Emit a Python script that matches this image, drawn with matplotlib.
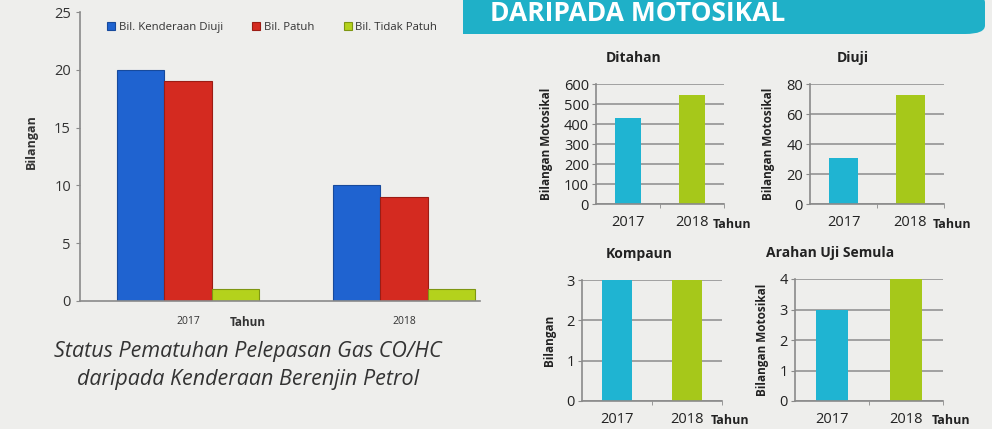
import matplotlib.pyplot as plt
import numpy as np
from matplotlib.patches import Rectangle, FancyBboxPatch

plt.rcParams['font.family'] = ['Open Sans', 'DejaVu Sans']

W, H = 992, 429
BG = "#eeeeec"

# --------------------------------------------------------------------
# Data
# --------------------------------------------------------------------

years = ["2017", "2018"]

diuji_kenderaan = [20, 10]
patuh = [19, 9]
tidak_patuh = [1, 1]

ditahan = [430, 545]
diuji_motosikal = [31, 73]
kompaun = [3, 3]
arahan_uji = [3, 4]

CYAN = "#1fb4d2"
LIME = "#a6c81a"


def px_axes(fig, x0, y0, x1, y1):
    # pixel box (top-left origin) -> figure axes
    return fig.add_axes([x0 / W, 1 - y1 / H, (x1 - x0) / W, (y1 - y0) / H])


def style_axes(ax):
    ax.set_facecolor("none")
    for side in ["top", "right"]:
        ax.spines[side].set_visible(False)
    for side in ["left", "bottom"]:
        ax.spines[side].set_color("#8a8a8a")
        ax.spines[side].set_linewidth(1.2)


fig = plt.figure(figsize=(W / 100, H / 100), dpi=100, facecolor=BG)

# --------------------------------------------------------------------
# Left chart: kenderaan berenjin petrol
# --------------------------------------------------------------------

ax = px_axes(fig, 80, 12, 480, 301)
style_axes(ax)

x = np.arange(len(years))
bw = 0.22

ax.bar(x - bw, diuji_kenderaan, bw, color="#1f63d0", edgecolor="#174a9c",
       linewidth=0.8, label="Bil. Kenderaan Diuji")
ax.bar(x, patuh, bw, color="#d42a20", edgecolor="#9c1c14",
       linewidth=0.8, label="Bil. Patuh")
ax.bar(x + bw, tidak_patuh, bw, color="#b4d21c", edgecolor="#7e9612",
       linewidth=0.8, label="Bil. Tidak Patuh")

ax.set_xlim(-0.5, 1.352)
ax.set_ylim(0, 25)
ax.set_yticks([0, 5, 10, 15, 20, 25])
ax.set_xticks(x)
ax.set_xticklabels(years, fontsize=7.5, color="#333333")
ax.tick_params(axis="x", length=0, pad=11)
ax.tick_params(axis="y", labelsize=10.5, colors="#333333", length=3, color="#8a8a8a")
ax.set_ylabel("Bilangan", fontsize=9, fontweight="bold", color="#333333")
ax.yaxis.set_label_coords(-0.105, 0.55)

ax.legend(loc="upper center", bbox_to_anchor=(0.48, 1.0), ncol=3, frameon=False,
          fontsize=8.2, handlelength=0.7, handleheight=0.7, handletextpad=0.3,
          columnspacing=2.6, labelcolor="#333333")

fig.text(248 / W, 1 - 322 / H, "Tahun", fontsize=8.5, fontweight="bold",
         color="#333333", ha="center", va="center")

fig.text(248 / W, 1 - 352 / H, "Status Pematuhan Pelepasan Gas CO/HC",
         fontsize=15.5, style="italic", color="#333333", ha="center", va="center")
fig.text(248 / W, 1 - 379 / H, "daripada Kenderaan Berenjin Petrol",
         fontsize=15.5, style="italic", color="#333333", ha="center", va="center")

# --------------------------------------------------------------------
# Banner
# --------------------------------------------------------------------

fig.patches.append(Rectangle((463 / W, 1 - 34 / H), (950 - 463) / W, 40 / H,
                             transform=fig.transFigure, facecolor="#1fb0c8",
                             edgecolor="none"))
fig.patches.append(FancyBboxPatch((900 / W, 1 - 34 / H), (985 - 900) / W, 40 / H,
                                  boxstyle="round,pad=0,rounding_size=0.02",
                                  transform=fig.transFigure, facecolor="#1fb0c8",
                                  edgecolor="none"))
fig.text(490 / W, 1 - 21 / H, "DARIPADA MOTOSIKAL", fontsize=19,
         fontweight="bold", color="white", ha="left", va="baseline")

# --------------------------------------------------------------------
# Motosikal small charts
# --------------------------------------------------------------------


def small_chart(box, values, ymax, step, title, ylabel, title_x):
    ax = px_axes(fig, *box)
    style_axes(ax)
    ax.set_axisbelow(True)
    ax.yaxis.grid(True, color="#8c8c8c", linewidth=1.1)
    ax.bar(x, values, 0.42, color=[CYAN, LIME], edgecolor="none")
    ax.set_xlim(-0.5, 1.5)
    ax.set_ylim(0, ymax)
    ax.set_yticks(np.arange(0, ymax + step, step))
    ax.set_xticks(x)
    ax.set_xticklabels(years)
    ax.set_xticks([0.5, 1.5], minor=True)
    ax.tick_params(axis="x", which="major", length=0, pad=8)
    ax.tick_params(axis="x", which="minor", length=3, color="#8a8a8a")
    ax.tick_params(axis="both", labelsize=10.5, colors="#222222")
    ax.tick_params(axis="y", length=3, color="#8a8a8a", pad=2)
    ax.set_ylabel(ylabel, fontsize=8.5, fontweight="bold", color="#222222", labelpad=8)
    ax.annotate(title, xy=(title_x, 1), xycoords="axes fraction",
                xytext=(0, 26), textcoords="offset pixels", fontsize=10,
                fontweight="bold", color="#222222", ha="center", va="center")
    ax.annotate("Tahun", xy=(1, 0), xycoords="axes fraction",
                xytext=(-11, -20), textcoords="offset pixels", fontsize=9,
                fontweight="bold", color="#222222", ha="left", va="center")
    return ax


small_chart((596, 84, 724, 204), ditahan, 600, 100, "Ditahan",
            "Bilangan Motosikal", 0.29)
small_chart((810, 84, 944, 204), diuji_motosikal, 80, 20, "Diuji",
            "Bilangan Motosikal", 0.32)
small_chart((582, 280, 722, 401), kompaun, 3, 1, "Kompaun", "Bilangan", 0.41)
small_chart((795, 279, 943, 401), arahan_uji, 4, 1, "Arahan Uji Semula",
            "Bilangan Motosikal", 0.24)

fig.savefig("out.png", dpi=100, facecolor=BG)
